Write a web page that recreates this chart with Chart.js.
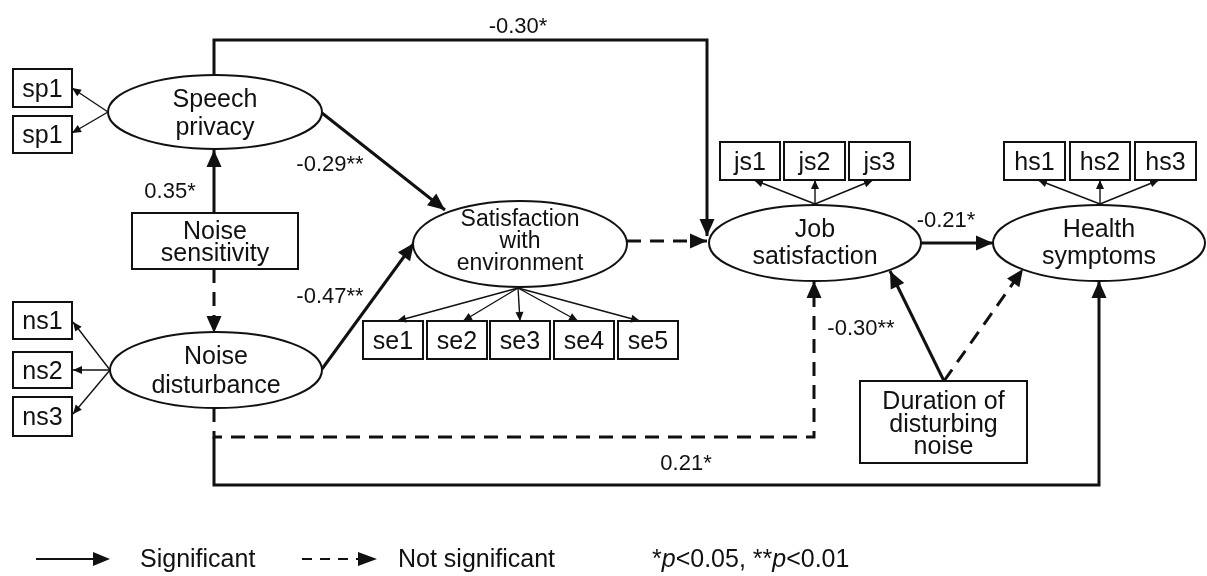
<!DOCTYPE html>
<html>
<head>
<meta charset="utf-8">
<script src="https://cdn.jsdelivr.net/npm/chart.js@4.4.1/dist/chart.umd.min.js"></script>
<style>
  html, body { margin: 0; padding: 0; background: #fff; }
  #wrap { width: 1207px; height: 576px; position: relative; }
</style>
</head>
<body>
<div id="wrap"><canvas id="pathChart"></canvas></div>
<script>
// --- MODEL DATA ---
const constructs = ['Speech privacy', 'Noise sensitivity', 'Noise disturbance',
  'Satisfaction with environment', 'Job satisfaction', 'Health symptoms', 'Duration of disturbing noise'];
const spItems = ['sp1', 'sp1'];
const nsItems = ['ns1', 'ns2', 'ns3'];
const seItems = ['se1', 'se2', 'se3', 'se4', 'se5'];
const jsItems = ['js1', 'js2', 'js3'];
const hsItems = ['hs1', 'hs2', 'hs3'];

const pathFrom = ['Noise sensitivity', 'Noise sensitivity', 'Speech privacy', 'Noise disturbance', 'Speech privacy',
  'Satisfaction with environment', 'Noise disturbance', 'Job satisfaction', 'Noise disturbance',
  'Duration of disturbing noise', 'Duration of disturbing noise'];
const pathTo = ['Speech privacy', 'Noise disturbance', 'Satisfaction with environment', 'Satisfaction with environment',
  'Job satisfaction', 'Job satisfaction', 'Job satisfaction', 'Health symptoms', 'Health symptoms',
  'Job satisfaction', 'Health symptoms'];
const pathCoef = ['0.35*', '', '-0.29**', '-0.47**', '-0.30*', '', '', '-0.21*', '0.21*', '-0.30**', ''];
const pathSig = [true, false, true, true, true, false, false, true, true, true, false];

const legendLabels = ['Significant', 'Not significant'];

// --- LAYOUT (diagram units, same as pixels) ---
const layout = {
  nodes: {
    'Speech privacy':                { shape: 'ellipse', c: [215, 112], r: [107, 37], font: 25, lh: 28, dy: 0 },
    'Noise disturbance':             { shape: 'ellipse', c: [216, 370], r: [106, 38], font: 25, lh: 29, dy: 0 },
    'Satisfaction with environment': { shape: 'ellipse', c: [520, 244], r: [107, 43], font: 23, lh: 22, dy: -4 },
    'Job satisfaction':              { shape: 'ellipse', c: [815, 243], r: [106, 38], font: 25, lh: 27, dy: -1 },
    'Health symptoms':               { shape: 'ellipse', c: [1099, 243], r: [106, 38], font: 25, lh: 27, dy: -1 },
    'Noise sensitivity':             { shape: 'rect', box: [132, 213, 298, 269], font: 25, lh: 22, dy: 0 },
    'Duration of disturbing noise':  { shape: 'rect', box: [860, 381, 1027, 463], font: 25, lh: 22.5, dy: 1 }
  },
  items: [
    { names: spItems, from: [108, 112], tips: [[72, 88], [72, 133]],
      boxes: [[13, 69, 72, 107], [13, 116, 72, 153]] },
    { names: nsItems, from: [110, 370], tips: [[73, 322], [73, 370], [73, 414]],
      boxes: [[13, 302, 72, 339], [13, 352, 72, 388], [13, 397, 72, 436]] },
    { names: seItems, from: [518, 288], tips: [[397, 321], [463, 321], [520, 321], [578, 321], [640, 321]],
      boxes: [[363, 321, 423, 359], [427, 321, 487, 359], [490, 321, 550, 359], [554, 321, 614, 359], [618, 321, 678, 359]] },
    { names: jsItems, from: [815, 204], tips: [[754, 180], [815, 180], [873, 180]],
      boxes: [[720, 142, 780, 180], [784, 142, 845, 180], [849, 142, 910, 180]] },
    { names: hsItems, from: [1100, 204], tips: [[1038, 180], [1100, 180], [1159, 180]],
      boxes: [[1004, 142, 1065, 180], [1070, 142, 1130, 180], [1135, 142, 1196, 180]] }
  ],
  paths: [
    [[214, 213], [214, 150]],
    [[214, 269], [214, 333]],
    [[322, 113], [445, 210]],
    [[322, 369], [414, 243]],
    [[214, 75], [214, 40], [707, 40], [707, 236]],
    [[627, 241], [707, 241]],
    [[214, 408], [214, 437], [814, 437], [814, 281]],
    [[921, 243], [993, 243]],
    [[214, 437], [214, 485], [1099, 485], [1099, 281]],
    [[944, 381], [890, 271]],
    [[944, 381], [1023, 269]]
  ],
  coefPos: [[170, 190], null, [330, 163], [330, 295], [518, 25], null, null, [946, 219], [686, 462], [861, 327], null],
  legend: { y: 559, solid: [36, 110], dashed: [302, 377], text: [140, 398], note: 652 }
};

const FONT = '"Liberation Sans", Arial, sans-serif';
const INK = '#111';

// --- HELPERS ---
function wrapLabel(name) {
  // one word per line, short words ("of") stay with the previous one
  const lines = [];
  name.split(' ').forEach(w => {
    if (w.length <= 2 && lines.length) lines[lines.length - 1] += ' ' + w;
    else lines.push(w);
  });
  return lines;
}

function drawLines(ctx, lines, cx, cy, size, lh) {
  const cap = size * 0.716;
  ctx.font = `${size}px ${FONT}`;
  ctx.textAlign = 'center';
  ctx.textBaseline = 'alphabetic';
  lines.forEach((t, i) => {
    ctx.fillText(t, cx, cy + (i - (lines.length - 1) / 2) * lh + cap / 2);
  });
}

function arrowHead(ctx, x0, y0, x1, y1, len, half) {
  const a = Math.atan2(y1 - y0, x1 - x0);
  ctx.beginPath();
  ctx.moveTo(x1, y1);
  ctx.lineTo(x1 - len * Math.cos(a) + half * Math.sin(a), y1 - len * Math.sin(a) - half * Math.cos(a));
  ctx.lineTo(x1 - len * Math.cos(a) - half * Math.sin(a), y1 - len * Math.sin(a) + half * Math.cos(a));
  ctx.closePath();
  ctx.fill();
}

// --- DATASETS ---
const datasets = [];
pathFrom.forEach((from, i) => {
  datasets.push({
    label: from + ' -> ' + pathTo[i],
    data: layout.paths[i].map(([x, y]) => ({ x, y })),
    showLine: true, pointRadius: 0, tension: 0,
    borderColor: INK, borderWidth: 3,
    borderDash: pathSig[i] ? [] : [14, 9],
    arrow: 'big'
  });
});
layout.items.forEach(g => {
  g.names.forEach((n, k) => {
    datasets.push({
      label: n,
      data: [{ x: g.from[0], y: g.from[1] }, { x: g.tips[k][0], y: g.tips[k][1] }],
      showLine: true, pointRadius: 0, tension: 0,
      borderColor: INK, borderWidth: 1.4,
      arrow: 'small'
    });
  });
});

// --- DIAGRAM PLUGIN ---
const diagramPlugin = {
  id: 'diagram',
  afterDatasetsDraw(chart) {
    const ctx = chart.ctx;
    const sx = chart.scales.x, sy = chart.scales.y;
    const px = v => sx.getPixelForValue(v);
    const py = v => sy.getPixelForValue(v);
    ctx.save();
    ctx.strokeStyle = INK;
    ctx.fillStyle = INK;

    // construct nodes
    constructs.forEach(name => {
      const n = layout.nodes[name];
      ctx.lineWidth = 2;
      let cx, cy;
      if (n.shape === 'ellipse') {
        cx = px(n.c[0]); cy = py(n.c[1]);
        const rx = px(n.c[0] + n.r[0]) - cx, ry = py(n.c[1] + n.r[1]) - cy;
        ctx.beginPath();
        ctx.ellipse(cx, cy, Math.abs(rx), Math.abs(ry), 0, 0, Math.PI * 2);
      } else {
        const [x0, y0, x1, y1] = n.box;
        cx = (px(x0) + px(x1)) / 2; cy = (py(y0) + py(y1)) / 2;
        ctx.beginPath();
        ctx.rect(px(x0), py(y0), px(x1) - px(x0), py(y1) - py(y0));
      }
      ctx.fillStyle = '#fff';
      ctx.fill();
      ctx.stroke();
      ctx.fillStyle = INK;
      drawLines(ctx, wrapLabel(name), cx, cy + n.dy, n.font, n.lh);
    });

    // indicator boxes
    layout.items.forEach(g => {
      g.names.forEach((label, k) => {
        const [x0, y0, x1, y1] = g.boxes[k];
        ctx.lineWidth = 2;
        ctx.strokeRect(px(x0), py(y0), px(x1) - px(x0), py(y1) - py(y0));
        drawLines(ctx, [label], (px(x0) + px(x1)) / 2, (py(y0) + py(y1)) / 2, 25, 0);
      });
    });

    // arrow heads at the end of each dataset line
    chart.data.datasets.forEach((ds, i) => {
      const pts = chart.getDatasetMeta(i).data;
      const a = pts[pts.length - 2], b = pts[pts.length - 1];
      if (ds.arrow === 'big') arrowHead(ctx, a.x, a.y, b.x, b.y, 17, 7.5);
      else arrowHead(ctx, a.x, a.y, b.x, b.y, 9, 4);
    });

    // path coefficients
    pathCoef.forEach((c, i) => {
      if (!c) return;
      const p = layout.coefPos[i];
      drawLines(ctx, [c], px(p[0]), py(p[1]), 22, 0);
    });

    // legend
    const L = layout.legend, ly = py(L.y);
    ctx.lineWidth = 2;
    ctx.setLineDash([]);
    ctx.beginPath();
    ctx.moveTo(px(L.solid[0]), ly); ctx.lineTo(px(L.solid[1]) - 10, ly); ctx.stroke();
    arrowHead(ctx, px(L.solid[0]), ly, px(L.solid[1]), ly, 17, 7);
    ctx.setLineDash([10, 8]);
    ctx.beginPath();
    ctx.moveTo(px(L.dashed[0]), ly); ctx.lineTo(px(L.dashed[1]) - 17, ly); ctx.stroke();
    ctx.setLineDash([]);
    arrowHead(ctx, px(L.dashed[0]), ly, px(L.dashed[1]), ly, 19, 7);

    ctx.font = `25px ${FONT}`;
    ctx.textAlign = 'left';
    ctx.textBaseline = 'alphabetic';
    const base = ly + 8;
    legendLabels.forEach((t, k) => ctx.fillText(t, px(L.text[k]), base));

    // "*p<0.05, **p<0.01" with italic p
    const parts = [['*', false], ['p', true], ['<0.05, **', false], ['p', true], ['<0.01', false]];
    let x = px(L.note);
    parts.forEach(([t, it]) => {
      ctx.font = `${it ? 'italic ' : ''}25px ${FONT}`;
      ctx.fillText(t, x, base);
      x += ctx.measureText(t).width;
    });
    ctx.restore();
  }
};

// --- CHART ---
new Chart(document.getElementById('pathChart'), {
  type: 'scatter',
  data: { datasets },
  options: {
    responsive: true,
    maintainAspectRatio: false,
    animation: false,
    events: [],
    layout: { padding: 0 },
    plugins: { legend: { display: false }, tooltip: { enabled: false } },
    scales: {
      x: { type: 'linear', min: 0, max: 1207, display: false },
      y: { type: 'linear', min: 0, max: 576, reverse: true, display: false }
    }
  },
  plugins: [diagramPlugin]
});
</script>
</body>
</html>
